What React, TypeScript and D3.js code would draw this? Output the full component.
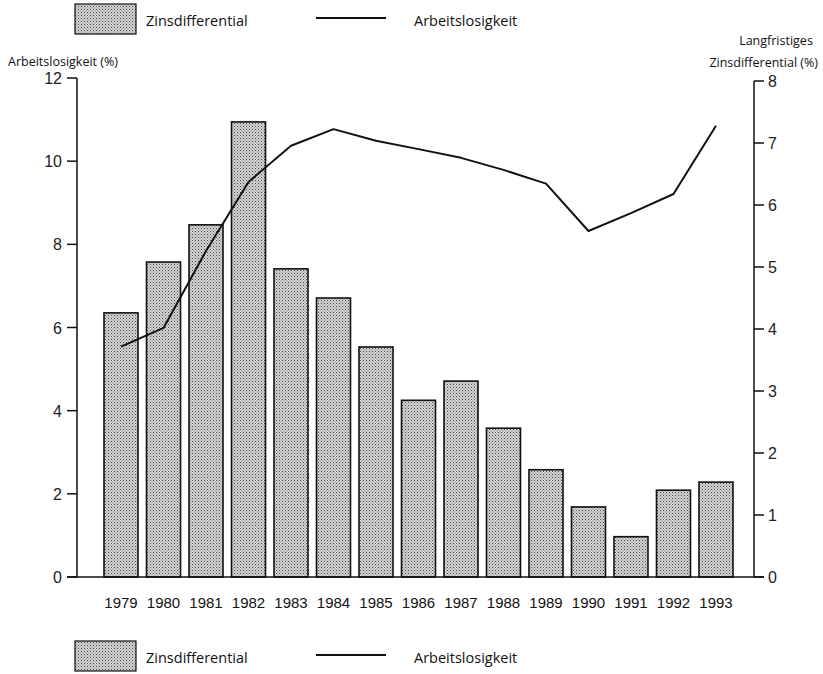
import React from "react";
import * as d3 from "d3";

const years = ["1979","1980","1981","1982","1983","1984","1985","1986","1987","1988","1989","1990","1991","1992","1993"];
const zinsdifferential = [4.26,5.08,5.68,7.34,4.97,4.5,3.71,2.85,3.16,2.4,1.73,1.13,0.65,1.4,1.53];
const arbeitslosigkeit = [5.54,5.99,7.84,9.5,10.37,10.77,10.49,10.29,10.08,9.79,9.46,8.32,8.75,9.21,10.85];
const leftTicks = [0,2,4,6,8,10,12];
const rightTicks = [0,1,2,3,4,5,6,7,8];

const W = 823, H = 674;
const X0 = 77, X1 = 754, Y0 = 577, YTOP = 78;

export default function App() {
  const x = d3.scaleBand<string>().domain(years).range([X0 + 3, X1 + 3]).paddingInner(0.2).paddingOuter(0.565);
  const yL = d3.scaleLinear().domain([0, 12]).range([Y0, YTOP]);
  const yR = d3.scaleLinear().domain([0, 8]).range([Y0, YTOP + 3]);
  const line = d3.line<number>()
    .x((_, i) => (x(years[i]) as number) + x.bandwidth() / 2)
    .y((d) => yL(d));
  const tickFont = "'Liberation Sans', Arial, sans-serif";
  const labFont = "'Open Sans', 'DejaVu Sans', sans-serif";

  const Legend = ({ y }: { y: number }) => (
    <g>
      <rect x={75} y={y} width={61} height={30} fill="url(#dots)" stroke="#111" strokeWidth={1.2} />
      <text x={146} y={y + 22} fontFamily={labFont} fontSize={14.5} fill="#111">Zinsdifferential</text>
      <line x1={316} x2={386} y1={y + 14} y2={y + 14} stroke="#111" strokeWidth={2} />
      <text x={414} y={y + 22} fontFamily={labFont} fontSize={14.5} fill="#111">Arbeitslosigkeit</text>
    </g>
  );

  return (
    <svg width={W} height={H} style={{ position: "absolute", left: 0, top: 0, background: "#fff" }}>
      <defs>
        <pattern id="dots" width={3} height={3} patternUnits="userSpaceOnUse">
          <rect width={3} height={3} fill="#d6d6d6" />
          <rect x={0} y={0} width={1} height={1} fill="#444" />
          <rect x={1.5} y={1.5} width={1} height={1} fill="#666" />
        </pattern>
      </defs>
      <rect width={W} height={H} fill="#fff" />
      <Legend y={4} />

      <text x={8} y={66} fontFamily={labFont} fontSize={12.5} fill="#111">Arbeitslosigkeit (%)</text>
      <text x={776} y={45} textAnchor="middle" fontFamily={labFont} fontSize={12.5} fill="#111">Langfristiges</text>
      <text x={818} y={67} textAnchor="end" fontFamily={labFont} fontSize={12.5} fill="#111">Zinsdifferential (%)</text>

      {years.map((yr, i) => (
        <rect key={yr} x={x(yr)} y={yR(zinsdifferential[i])} width={x.bandwidth()} height={Y0 - yR(zinsdifferential[i])}
          fill="url(#dots)" stroke="#111" strokeWidth={1.6} />
      ))}

      <path d={line(arbeitslosigkeit) || ""} fill="none" stroke="#111" strokeWidth={2} strokeLinejoin="round" />

      {/* left axis */}
      <line x1={X0} x2={X0} y1={YTOP} y2={Y0} stroke="#111" strokeWidth={1.5} />
      {leftTicks.map((t) => (
        <g key={"l" + t}>
          <line x1={X0 - 10} x2={X0} y1={yL(t)} y2={yL(t)} stroke="#111" strokeWidth={1.5} />
          <text x={X0 - 15} y={yL(t) + 6} textAnchor="end" fontFamily={tickFont} fontSize={16} fill="#222">{t}</text>
        </g>
      ))}
      {/* right axis */}
      <line x1={X1} x2={X1} y1={yR(8)} y2={Y0} stroke="#111" strokeWidth={1.5} />
      {rightTicks.map((t) => (
        <g key={"r" + t}>
          <line x1={X1} x2={X1 + 10} y1={yR(t)} y2={yR(t)} stroke="#111" strokeWidth={1.5} />
          <text x={X1 + 14} y={yR(t) + 6} fontFamily={tickFont} fontSize={16} fill="#222">{t}</text>
        </g>
      ))}
      {/* baseline */}
      <line x1={X0 - 10} x2={X1 + 10} y1={Y0} y2={Y0} stroke="#111" strokeWidth={1.5} />

      {years.map((yr) => (
        <text key={"t" + yr} x={(x(yr) as number) + x.bandwidth() / 2} y={608} textAnchor="middle"
          fontFamily={tickFont} fontSize={15} fill="#111">{yr}</text>
      ))}

      <Legend y={641} />
    </svg>
  );
}
